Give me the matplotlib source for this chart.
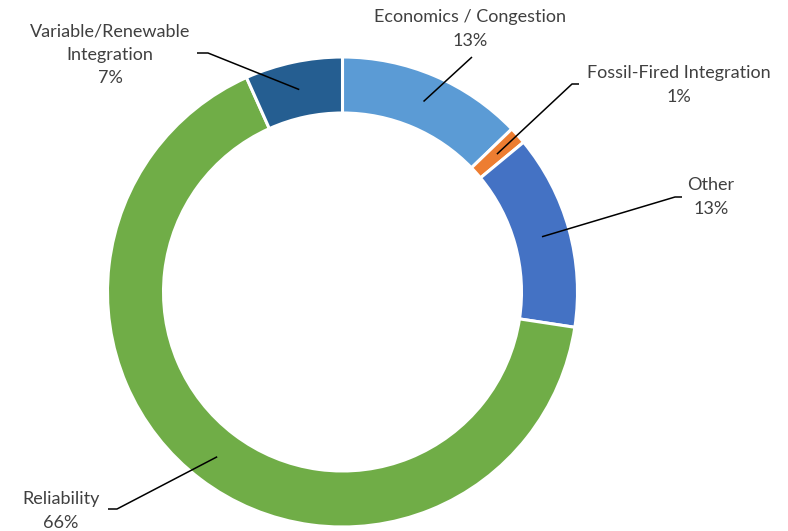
import matplotlib
matplotlib.use("Agg")
import matplotlib.pyplot as plt
import numpy as np

categories = ["Economics / Congestion", "Fossil-Fired Integration", "Other",
              "Reliability", "Variable/Renewable\nIntegration"]
values = [12.8, 1.2, 13.4, 65.9, 6.7]
colors = ["#5B9BD5", "#ED7D31", "#4472C4", "#70AD47", "#255E91"]

W, H = 788, 531
fig = plt.figure(figsize=(W / 100, H / 100), dpi=100)
ax = fig.add_axes([0, 0, 1, 1])
ax.set_xlim(0, W)
ax.set_ylim(0, H)
ax.set_aspect("equal")
ax.axis("off")

cx, cy = 342.5, H - 292
R = 235
ring = 56

wedges, _ = ax.pie(values, colors=colors, startangle=90, counterclock=False,
                   radius=R, center=(cx, cy),
                   wedgeprops=dict(width=ring, edgecolor="white", linewidth=2.2))
ax.set_xlim(0, W)
ax.set_ylim(0, H)

# label layout: (text center x, text center y, elbow x, elbow y, end x, end y) in pixels (y from top)
layout = [
    (470, 29, None, None, 472, 57),
    (679, 85, 572, 84, 579, 84),
    (711, 197, 675, 197, 682, 197),
    (61, 511, 117, 509, 108, 509),
    (110, 55, 208, 53, 197, 53),
]

total = sum(values)
cum = 0
rmid = R - ring / 2
for cat, v, (tx, ty, ex, ey, hx, hy) in zip(categories, values, layout):
    mid = (cum + v / 2) / total * 2 * np.pi
    cum += v
    px = cx + rmid * np.sin(mid)
    py = cy + rmid * np.cos(mid)
    if ex is None:
        xs = [px, hx]
        ys = [py, H - hy]
    else:
        xs = [px, ex, hx]
        ys = [py, H - ey, H - hy]
    ax.plot(xs, ys, color="black", lw=1.1, solid_capstyle="butt")
    ax.text(tx, H - ty, f"{cat}\n{v:.0f}%", ha="center", va="center",
            fontsize=13, family=["Lato", "DejaVu Sans"], color="#404040",
            linespacing=1.55)

fig.savefig("out.png", dpi=100)
